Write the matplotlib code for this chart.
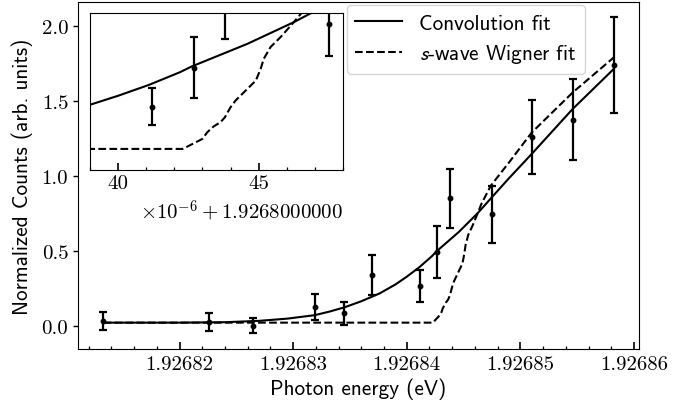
import matplotlib
matplotlib.use("Agg")
import matplotlib.pyplot as plt
from matplotlib.ticker import FuncFormatter, MultipleLocator
from matplotlib.font_manager import FontProperties

plt.rcParams['mathtext.fontset'] = 'cm'
plt.rcParams['axes.formatter.use_mathtext'] = True

# ---- data ----
energy = [1.9268133, 1.9268226, 1.9268265, 1.9268319, 1.9268345, 1.9268369,
          1.9268412, 1.9268427, 1.9268438, 1.9268475, 1.9268510, 1.9268546,
          1.9268582]
counts = [0.031, 0.025, 0.000, 0.125, 0.084, 0.338,
          0.265, 0.490, 0.851, 0.744, 1.260, 1.376, 1.741]
errors = [0.062, 0.058, 0.052, 0.085, 0.077, 0.134,
          0.109, 0.175, 0.196, 0.190, 0.250, 0.270, 0.320]

conv_x = [1.9268133, 1.9268200, 1.9268240, 1.9268270, 1.9268295, 1.9268319,
          1.9268332, 1.9268345, 1.9268360, 1.9268376, 1.9268390, 1.9268400,
          1.9268411, 1.9268422, 1.9268426, 1.9268446, 1.92684625, 1.9268474,
          1.9268490, 1.9268510, 1.9268546, 1.9268582]
conv_y = [0.020, 0.020, 0.023, 0.032, 0.047, 0.070,
          0.094, 0.122, 0.163, 0.215, 0.275, 0.327,
          0.390, 0.463, 0.495, 0.627, 0.752, 0.850,
          0.985, 1.147, 1.447, 1.713]

wig_x = [1.9268133, 1.9268423, 1.9268430, 1.92684317, 1.9268434, 1.92684364,
         1.9268438, 1.9268440, 1.92684418, 1.9268449, 1.92684507, 1.92684518,
         1.92684542, 1.92684578, 1.92684625, 1.92684655, 1.9268474, 1.9268490,
         1.9268510, 1.9268546, 1.9268582]
wig_y = [0.020, 0.020, 0.078, 0.116, 0.150, 0.174,
         0.203, 0.261, 0.300, 0.415, 0.482, 0.540,
         0.608, 0.666, 0.752, 0.810, 0.935, 1.090,
         1.290, 1.557, 1.790]

labels = ["Convolution fit", r"$s$-wave Wigner fit"]
offset_label = r"$\times10^{-6}+1.9268000000$"

# ---- figure ----
fig = plt.figure(figsize=(6.93, 4.10), dpi=100)
ax = fig.add_axes([78/693, 1-350/410, 561/693, 347/410])

tickfont = 'cmr10'
labfont = 'cmss10'
fs = 15.0
lfs = 15.3


def draw(a):
    a.errorbar(energy, counts, yerr=errors, fmt='o', color='k', ms=3.2,
               elinewidth=1.6, capsize=3.2, capthick=1.6, zorder=3)
    l1, = a.plot(conv_x, conv_y, '-', color='k', lw=1.5)
    l2, = a.plot(wig_x, wig_y, '--', color='k', lw=1.5)
    return l1, l2


l1, l2 = draw(ax)
ax.set_ylim(-0.156, 2.162)
ax.xaxis.set_major_locator(MultipleLocator(1e-5))
ax.xaxis.set_minor_locator(MultipleLocator(2e-6))
ax.xaxis.set_major_formatter(FuncFormatter(lambda v, p: f"{v:.5f}"))
ax.yaxis.set_major_locator(MultipleLocator(0.5))
ax.yaxis.set_major_formatter(FuncFormatter(lambda v, p: f"{v:.1f}"))
ax.tick_params(axis='x', which='major', direction='in', length=5, width=1.2, pad=4.5)
ax.tick_params(axis='x', which='minor', direction='in', length=2.5, width=0.9)
ax.tick_params(axis='y', which='major', direction='out', length=3.5, width=1.0)
for t in ax.get_xticklabels() + ax.get_yticklabels():
    t.set_fontfamily(tickfont)
    t.set_fontsize(fs)
ax.set_xlabel("Photon energy (eV)", fontfamily=labfont, fontsize=lfs, labelpad=3)
ax.set_ylabel("Normalized Counts (arb. units)", fontfamily=labfont, fontsize=lfs, labelpad=6)

leg = ax.legend([l1, l2], labels, loc='upper left', bbox_to_anchor=(0.4795, 0.991),
                borderaxespad=0, handlelength=2.2, labelspacing=0.45,
                prop=FontProperties(family=labfont, size=lfs, math_fontfamily='stixsans'))

# ---- inset ----
ins = fig.add_axes([90/693, 1-170.7/410, 253/693, 156.7/410])
draw(ins)
ins.set_xlim(1.926839, 1.926848)
ins.set_ylim(-0.1, 0.805)
ins.set_yticks([])
ins.xaxis.set_major_locator(MultipleLocator(5e-6))
ins.xaxis.set_minor_locator(MultipleLocator(1e-6))
fmt = FuncFormatter(lambda v, p: f"{(v - 1.9268) * 1e6:.0f}")
fmt.set_offset_string(offset_label)
ins.xaxis.set_major_formatter(fmt)
ins.tick_params(axis='x', which='major', direction='in', length=5, width=1.2)
ins.tick_params(axis='x', which='minor', direction='in', length=2.5, width=0.9)
for t in ins.get_xticklabels():
    t.set_fontfamily(tickfont)
    t.set_fontsize(fs)
ins.xaxis.get_offset_text().set_fontsize(fs)

fig.savefig("out.png", dpi=100)
